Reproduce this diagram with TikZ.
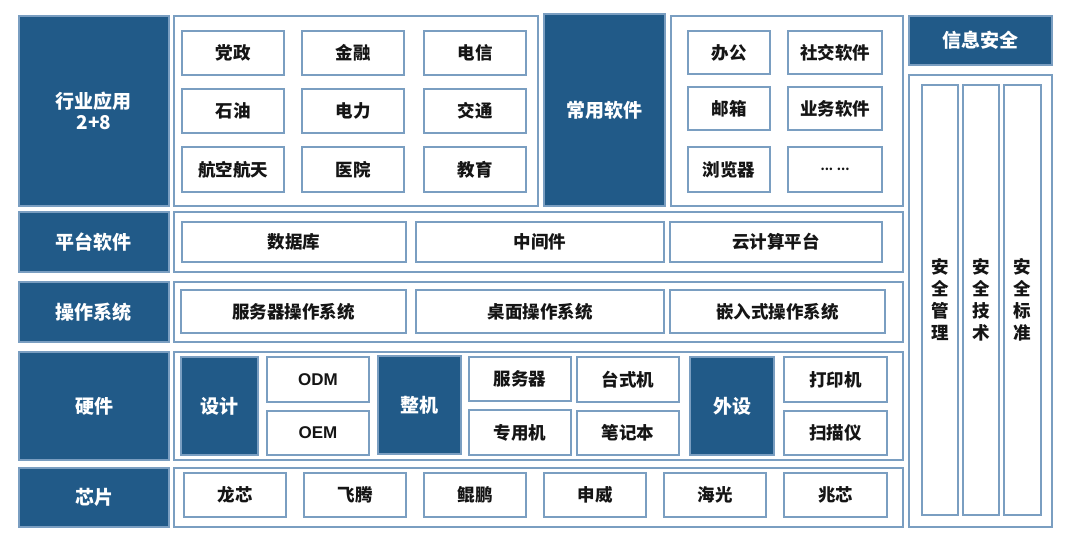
\documentclass[tikz,border=0pt]{standalone}
\usepackage{fontspec}
\setmainfont{Noto Sans CJK SC}
\newfontfamily\latinf{Liberation Sans}
\definecolor{dk}{HTML}{215A88}
\definecolor{bdr}{HTML}{7A9EC1}
\definecolor{txt}{HTML}{151515}
\newcommand\bx[7]{\node[#6, minimum width={(#4-#2)*1pt}, minimum height={(#5-#3)*1pt}] (#1) at ({(#2+#4)/2},{(#3+#5)/2}) {#7};}
\begin{document}
\begin{tikzpicture}[x=1pt,y=-1pt,
  base/.style={rectangle, inner sep=0pt, outer sep=0pt, line width=1.1pt, draw=bdr},
  dark/.style={base, fill=dk, text=white, align=center, font=\fontsize{19}{22}\selectfont\bfseries},
  item/.style={base, fill=white, text=txt, font=\fontsize{17.5}{20}\selectfont\bfseries},
  cont/.style={base, fill=white},
  vcol/.style={base, fill=white, text=txt, align=center, font=\fontsize{17.5}{22}\selectfont\bfseries}]
\useasboundingbox (0,0) rectangle (1080,546);
% left labels
\bx{l1}{19}{16}{169}{206}{dark}{行业应用\\[-1pt]2+8}
\bx{l2}{19}{212}{169}{272}{dark}{平台软件}
\bx{l3}{19}{282}{169}{342}{dark}{操作系统}
\bx{l4}{19}{352}{169}{460}{dark}{硬件}
\bx{l5}{19}{468}{169}{527}{dark}{芯片}
% containers
\bx{c1}{174}{16}{538}{206}{cont}{}
\bx{c1b}{671}{16}{903}{206}{cont}{}
\bx{cy}{544}{14}{665}{206}{dark}{常用软件}
\bx{c2}{174}{212}{903}{272}{cont}{}
\bx{c3}{174}{282}{903}{342}{cont}{}
\bx{c4}{174}{352}{903}{460}{cont}{}
\bx{c5}{174}{468}{903}{527}{cont}{}
% row 1 industry
\bx{a1}{182}{31}{284}{75}{item}{党政}
\bx{a2}{302}{31}{404}{75}{item}{金融}
\bx{a3}{424}{31}{526}{75}{item}{电信}
\bx{a4}{182}{89}{284}{133}{item}{石油}
\bx{a5}{302}{89}{404}{133}{item}{电力}
\bx{a6}{424}{89}{526}{133}{item}{交通}
\bx{a7}{182}{147}{284}{192}{item}{航空航天}
\bx{a8}{302}{147}{404}{192}{item}{医院}
\bx{a9}{424}{147}{526}{192}{item}{教育}
% common software
\bx{b1}{688}{31}{770}{74}{item}{办公}
\bx{b2}{788}{31}{882}{74}{item}{社交软件}
\bx{b3}{688}{87}{770}{130}{item}{邮箱}
\bx{b4}{788}{87}{882}{130}{item}{业务软件}
\bx{b5}{688}{147}{770}{192}{item}{浏览器}
\bx{b6}{788}{147}{882}{192}{item}{\fontsize{12}{14}\selectfont ... ...}
% platform software
\bx{p1}{182}{222}{406}{262}{item}{数据库}
\bx{p2}{416}{222}{664}{262}{item}{中间件}
\bx{p3}{670}{222}{882}{262}{item}{云计算平台}
% OS
\bx{o1}{181}{290}{406}{333}{item}{服务器操作系统}
\bx{o2}{416}{290}{664}{333}{item}{桌面操作系统}
\bx{o3}{670}{290}{885}{333}{item}{嵌入式操作系统}
% hardware
\bx{h1}{181}{357}{258}{455}{dark}{设计}
\bx{h2}{267}{357}{369}{402}{item}{\latinf\fontsize{17}{20}\selectfont\bfseries ODM}
\bx{h3}{267}{411}{369}{455}{item}{\latinf\fontsize{17}{20}\selectfont\bfseries OEM}
\bx{h4}{378}{356}{461}{454}{dark}{整机}
\bx{h5}{469}{357}{571}{401}{item}{服务器}
\bx{h6}{469}{410}{571}{455}{item}{专用机}
\bx{h7}{577}{357}{679}{402}{item}{台式机}
\bx{h8}{577}{411}{679}{455}{item}{笔记本}
\bx{h9}{690}{357}{774}{455}{dark}{外设}
\bx{h10}{784}{357}{887}{402}{item}{打印机}
\bx{h11}{784}{411}{887}{455}{item}{扫描仪}
% chips
\bx{k1}{184}{473}{286}{517}{item}{龙芯}
\bx{k2}{304}{473}{406}{517}{item}{飞腾}
\bx{k3}{424}{473}{526}{517}{item}{鲲鹏}
\bx{k4}{544}{473}{646}{517}{item}{申威}
\bx{k5}{664}{473}{766}{517}{item}{海光}
\bx{k6}{784}{473}{887}{517}{item}{兆芯}
% security
\bx{st}{909}{16}{1052}{65}{dark}{信息安全}
\bx{sc}{909}{75}{1052}{527}{cont}{}
\bx{s1}{922}{85}{958}{515}{vcol}{安\\全\\管\\理}
\bx{s2}{963}{85}{999}{515}{vcol}{安\\全\\技\\术}
\bx{s3}{1004}{85}{1041}{515}{vcol}{安\\全\\标\\准}
\end{tikzpicture}
\end{document}
